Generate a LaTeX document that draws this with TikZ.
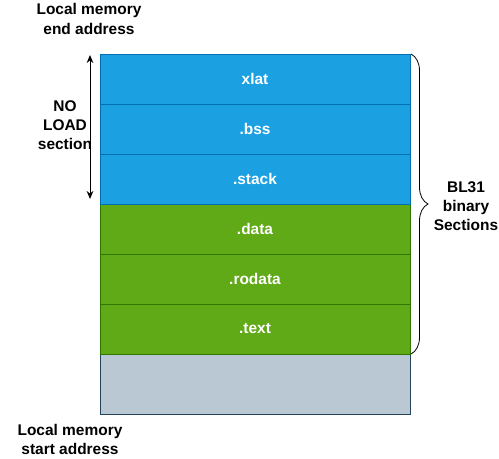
\documentclass[tikz,border=0pt]{standalone}
\usepackage{fontspec}
\setmainfont{Liberation Sans}
\usetikzlibrary{arrows.meta,decorations.pathreplacing}

\definecolor{loadblue}{RGB}{27,161,226}
\definecolor{loadblueline}{RGB}{0,110,175}
\definecolor{codegreen}{RGB}{96,169,23}
\definecolor{codegreenline}{RGB}{45,118,0}
\definecolor{freegrey}{RGB}{186,200,211}
\definecolor{freegreyline}{RGB}{35,68,93}

\tikzset{
  secbox/.style={draw, line width=0.75pt, minimum width=232.5pt, minimum height=37.5pt, inner sep=0pt,
    text=white, font=\fontsize{11.6}{14}\selectfont\bfseries},
  nolbox/.style={secbox, fill=loadblue, draw=loadblueline},
  ldbox/.style={secbox, fill=codegreen, draw=codegreenline},
  lbl/.style={align=center, font=\fontsize{11.6}{14.3}\selectfont\bfseries},
}

\begin{document}
\begin{tikzpicture}[x=0.75pt,y=0.75pt,yscale=-1,xscale=1]
\useasboundingbox (0,0) rectangle (499,458);

%Shape: Rectangle, free memory
\node [secbox, fill=freegrey, draw=freegreyline, minimum height=45pt] (free) at (255,384) {};

%Shape: Rectangle, sections
\node [ldbox] (text) at (255,329) {.text};
\node [ldbox] (rodata) at (255,279) {.rodata};
\node [ldbox] (data) at (255,229) {.data};
\node [nolbox] (stack) at (255,179) {.stack};
\node [nolbox] (bss) at (255,129) {.bss};
\node [nolbox] (xlat) at (255,79) {xlat};

%Straight Lines, NOLOAD extent
\coordinate (noltop) at (90,55);
\coordinate (nolbot) at (90,199);
\draw [{Stealth[length=6pt,width=5pt]}-{Stealth[length=6pt,width=5pt]}, line width=0.75pt] (noltop) -- (nolbot);

%Shape: Brace
\coordinate (brtop) at (411,54);
\coordinate (brbot) at (411,354);
\draw [decorate, decoration={brace, amplitude=12.75pt}, line width=0.6pt] (brtop) -- (brbot);

% Text Node
\node [lbl] (endaddr) at (89,19) {Local memory\\end address};
% Text Node
\node [lbl] (noload) at (65,125) {NO\\LOAD\\section};
% Text Node
\node [lbl] (bl31) at (466,206) {BL31\\binary\\Sections};
% Text Node
\node [lbl] (startaddr) at (70,439) {Local memory\\start address};

\end{tikzpicture}
\end{document}
